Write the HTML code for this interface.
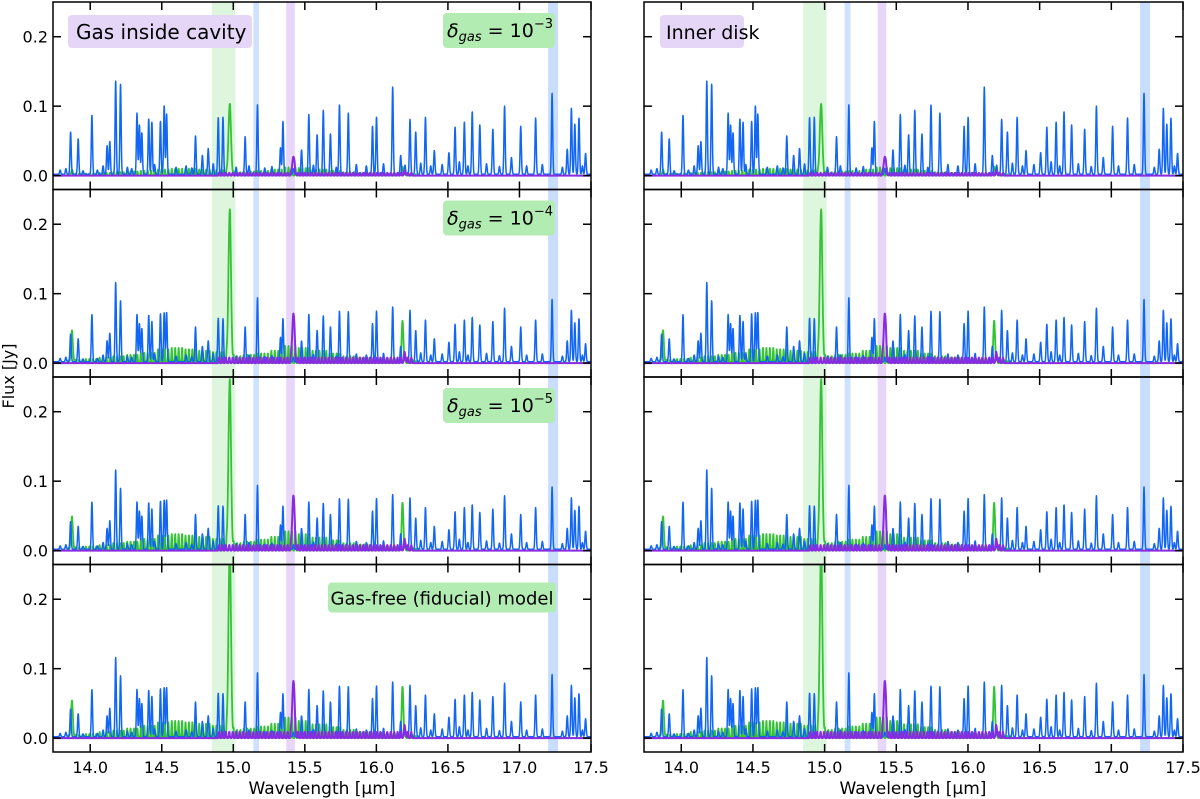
<!DOCTYPE html>
<html><head><meta charset="utf-8">
<style>
body{margin:0;background:#fff;}
svg{display:block;font-family:"DejaVu Sans","Liberation Sans",sans-serif;}
</style></head>
<body>
<svg id="chart" width="1200" height="799" viewBox="0 0 1200 799" xmlns="http://www.w3.org/2000/svg">
<defs id="defs"></defs>
<g id="root"></g>
</svg>
<script>
// ---- data ----
const blueWaves = [13.863,13.916,14.012,14.118,14.137,14.178,14.212,14.327,14.344,14.361,14.409,14.431,14.491,14.517,14.534,14.736,14.784,14.825,14.895,14.928,15.083,15.169,15.330,15.347,15.477,15.528,15.586,15.629,15.679,15.742,15.804,15.973,16.001,16.114,16.170,16.235,16.275,16.343,16.405,16.507,16.550,16.615,16.670,16.723,16.814,16.896,16.944,17.009,17.113,17.228,17.334,17.363,17.387,17.416,17.462];
const blueHeightsTop = [0.061,0.051,0.085,0.041,0.047,0.134,0.130,0.088,0.071,0.060,0.080,0.075,0.076,0.099,0.087,0.055,0.027,0.037,0.082,0.082,0.054,0.100,0.038,0.076,0.035,0.086,0.057,0.092,0.058,0.100,0.088,0.069,0.082,0.126,0.027,0.079,0.061,0.082,0.034,0.031,0.068,0.075,0.090,0.071,0.065,0.098,0.024,0.069,0.081,0.117,0.036,0.095,0.072,0.081,0.030];
const blueHeightsLow = [0.040,0.033,0.068,0.030,0.041,0.114,0.088,0.068,0.055,0.048,0.067,0.058,0.069,0.071,0.071,0.050,0.022,0.030,0.063,0.062,0.050,0.092,0.035,0.062,0.030,0.068,0.045,0.066,0.050,0.073,0.072,0.055,0.073,0.079,0.022,0.074,0.045,0.060,0.033,0.028,0.054,0.060,0.064,0.053,0.058,0.077,0.022,0.050,0.060,0.090,0.030,0.074,0.056,0.062,0.026];
const blueSmallWaves = [13.79,13.83,13.95,14.05,14.09,14.26,14.29,14.45,14.60,14.67,14.71,14.86,15.02,15.11,15.22,15.27,15.42,15.56,15.72,15.86,15.93,16.05,16.20,16.31,16.38,16.46,16.58,16.64,16.77,16.86,17.05,17.16,17.30,17.44];
const blueSmallHeights = [0.006,0.008,0.005,0.006,0.012,0.010,0.008,0.014,0.010,0.012,0.009,0.015,0.010,0.012,0.009,0.011,0.008,0.013,0.010,0.014,0.012,0.015,0.013,0.016,0.012,0.014,0.018,0.012,0.015,0.011,0.012,0.014,0.010,0.012];
const greenMainPeak = [0.100,0.215,0.240,0.270];
const greenPeak1387 = [0.006,0.043,0.045,0.050];
const greenPeak1618 = [0.012,0.060,0.068,0.073];
const purpleMainPeak = [0.027,0.071,0.079,0.082];
const purplePeak1620 = [0.004,0.010,0.011,0.012];
const combKnots = [13.8,13.9,14.0,14.1,14.2,14.3,14.4,14.5,14.6,14.7,14.8,14.9,15.0,15.1,15.2,15.3,15.4,15.5,15.6,15.7,15.8,15.9,16.0,16.1,16.2,16.3];
const greenCombRow1 = [0.002,0.003,0.003,0.004,0.005,0.006,0.007,0.009,0.010,0.010,0.009,0.008,0.005,0.006,0.007,0.009,0.012,0.011,0.009,0.007,0.005,0.004,0.004,0.003,0.003,0.002];
const greenCombRow2 = [0.004,0.005,0.006,0.008,0.010,0.012,0.015,0.020,0.022,0.020,0.018,0.016,0.010,0.012,0.014,0.018,0.025,0.022,0.018,0.014,0.010,0.008,0.007,0.006,0.005,0.003];
const greenCombRow3 = [0.004,0.005,0.006,0.008,0.011,0.013,0.017,0.022,0.024,0.022,0.020,0.017,0.011,0.013,0.016,0.020,0.028,0.024,0.019,0.015,0.011,0.009,0.007,0.006,0.005,0.003];
const greenCombRow4 = [0.004,0.005,0.006,0.009,0.011,0.014,0.018,0.023,0.025,0.023,0.021,0.018,0.012,0.014,0.017,0.021,0.030,0.025,0.020,0.016,0.012,0.009,0.008,0.006,0.005,0.003];
const purpleCombLevel = [0.004,0.008,0.008,0.009];
const bands = [[14.85,15.015,'rgba(60,200,60,0.17)'],[15.14,15.18,'rgba(40,120,255,0.22)'],[15.37,15.43,'rgba(150,70,230,0.22)'],[17.20,17.27,'rgba(40,120,255,0.25)']];
const xTicks = [14.0,14.5,15.0,15.5,16.0,16.5,17.0,17.5];
const yTicks = [0.0,0.1,0.2];
const rowLabels = ['\u03b4gas = 10\u207b\u00b3','\u03b4gas = 10\u207b\u2074','\u03b4gas = 10\u207b\u2075','Gas-free (fiducial) model'];

// ---- layout ----
const XMIN=13.74, XMAX=17.5, YMIN=-0.02, YMAX=0.25;
const panelsX=[[53,591],[644,1183]];
const rowTops=[2,189.5,377,564.5], RH=187.5;
const NS='http://www.w3.org/2000/svg';
const root=document.getElementById('root');
const defs=document.getElementById('defs');
function mk(tag,attrs,parent){const e=document.createElementNS(NS,tag);for(const k in attrs)e.setAttribute(k,attrs[k]);(parent||root).appendChild(e);return e;}
function sx(p,w){const [a,b]=panelsX[p];return a+(w-XMIN)/(XMAX-XMIN)*(b-a);}
function sy(r,v){return rowTops[r]+(YMAX-v)/(YMAX-YMIN)*RH;}

function spectrum(lines){
  const pts=[];
  for(let w=XMIN;w<=XMAX+1e-9;w+=0.0012){
    let s=0;
    for(const l of lines){const d=w-l[0];if(Math.abs(d)<5*l[2])s+=l[1]*Math.exp(-d*d/(2*l[2]*l[2]));}
    pts.push([w,s]);
  }
  return pts;
}
function knotVal(arr,w){let bi=0,bd=1e9;combKnots.forEach((k,i)=>{const d=Math.abs(k-w);if(d<bd){bd=d;bi=i;}});return arr[bi];}

for(let p=0;p<2;p++){
  for(let r=0;r<4;r++){
    const x0=panelsX[p][0],x1=panelsX[p][1],y0=rowTops[r];
    const g=mk('g',{});
    
    
    const cid='clip'+p+r;
    const cp=mk('clipPath',{id:cid},defs);mk('rect',{x:x0,y:y0,width:x1-x0,height:RH},cp);
    bands.forEach(b=>{const e=mk('rect',{x:sx(p,b[0]),y:y0,width:sx(p,b[1])-sx(p,b[0]),height:RH,fill:b[2]},g);
      });
    const gcomb=[greenCombRow1,greenCombRow2,greenCombRow3,greenCombRow4][r];
    const gl=[];
    for(let w=13.85;w<=16.3;w+=0.024){gl.push([w,knotVal(gcomb,w),0.0028]);}
    gl.push([14.975,greenMainPeak[r],0.009]);
    gl.push([13.872,greenPeak1387[r],0.007]);
    gl.push([16.183,greenPeak1618[r],0.006]);
    const bh=r===0?blueHeightsTop:blueHeightsLow;
    const bl=blueWaves.map((w,i)=>[w,bh[i],0.0042]);
    blueSmallWaves.forEach((w,i)=>bl.push([w,blueSmallHeights[i]*(r===0?1:0.8),0.004]));
    const pl=[];
    for(let w=14.9;w<=16.25;w+=0.024){pl.push([w,purpleCombLevel[r],0.003]);}
    pl.push([15.42,purpleMainPeak[r],0.008]);
    pl.push([16.2,purplePeak1620[r],0.006]);
    const series=[['green',gl,'#33c433',1.8,0],['blue',bl,'#1166f5',1.5,0.002],['purple',pl,'#8a2be2',2,0]];
    series.forEach(s=>{
      const pts=spectrum(s[1]);
      const d=pts.map((q,i)=>(i?'L':'M')+sx(p,q[0]).toFixed(2)+' '+sy(r,q[1]+s[4]).toFixed(2)).join('');
      const e=mk('path',{d:d,fill:'none',stroke:s[2],'stroke-width':s[3],'stroke-linejoin':'round','clip-path':'url(#'+cid+')'},g);
      
      
    });
    const fr=mk('rect',{x:x0,y:y0,width:x1-x0,height:RH,fill:'none',stroke:'#000','stroke-width':1.5},g);
    
    xTicks.forEach(t=>{const X=sx(p,t);
      const a=mk('line',{x1:X,x2:X,y1:y0,y2:y0+8,stroke:'#000','stroke-width':1.5},g);
      
      const b=mk('line',{x1:X,x2:X,y1:y0+RH,y2:y0+RH-8,stroke:'#000','stroke-width':1.5},g);
      });
    yTicks.forEach(t=>{const Y=sy(r,t);
      const a=mk('line',{x1:x0,x2:x0+8,y1:Y,y2:Y,stroke:'#000','stroke-width':1.5},g);
      
      const b=mk('line',{x1:x1,x2:x1-8,y1:Y,y2:Y,stroke:'#000','stroke-width':1.5},g);
      
      if(p===0){const tx=mk('text',{x:x0-5,y:Y+6,'text-anchor':'end','font-size':16},g);tx.textContent=t.toFixed(1);
        }});
    if(r===3){xTicks.forEach(t=>{const tx=mk('text',{x:sx(p,t),y:773,'text-anchor':'middle','font-size':16},g);tx.textContent=t.toFixed(1);
      });}
    if(p===0){
      const lbl=rowLabels[r];
      if(r<3){
        const bx=mk('rect',{x:443,y:rowTops[r]+11,width:112,height:35,rx:4,fill:'#b3ecb3'},g);
        
        const t=mk('text',{x:447,y:rowTops[r]+35,'font-size':19},g);
        
        t.innerHTML='<tspan font-style="italic">\u03b4</tspan><tspan font-style="italic" font-size="13" dy="4">gas</tspan><tspan dy="-4"> = 10</tspan><tspan font-size="13" dy="-9">\u2212'+(r+3)+'</tspan>';
      } else {
        const bx=mk('rect',{x:328,y:rowTops[r]+18,width:228,height:30,rx:4,fill:'#b3ecb3'},g);
        
        const t=mk('text',{x:442,y:rowTops[r]+40,'font-size':18,'text-anchor':'middle'},g);t.textContent=lbl;
        
      }
    }
  }
}
let e=mk('rect',{x:68,y:15,width:184,height:33,rx:4,fill:'#e5d5f7'});

e=mk('text',{x:76,y:39,'font-size':20});e.textContent='Gas inside cavity';

e=mk('rect',{x:660,y:15,width:84,height:33,rx:4,fill:'#e5d5f7'});

e=mk('text',{x:666,y:39,'font-size':19});e.textContent='Inner disk';

e=mk('text',{x:0,y:0,'font-size':16,'text-anchor':'middle',transform:'translate(14,376) rotate(-90)'});e.textContent='Flux [Jy]';

e=mk('text',{x:322,y:794,'font-size':17,'text-anchor':'middle'});e.textContent='Wavelength [\u03bcm]';

e=mk('text',{x:913,y:794,'font-size':17,'text-anchor':'middle'});e.textContent='Wavelength [\u03bcm]';

</script>
</body></html>
